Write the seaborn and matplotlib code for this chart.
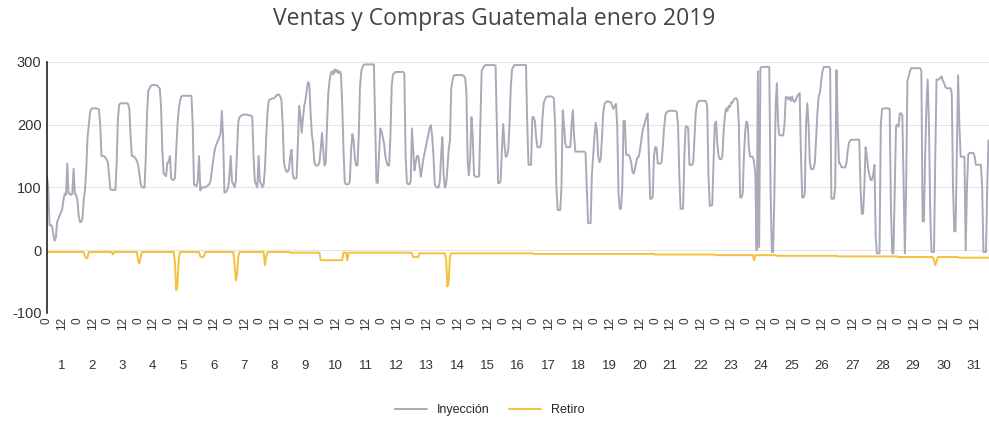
import matplotlib
matplotlib.use('Agg')  # Use non-interactive backend
import matplotlib.pyplot as plt
import matplotlib.transforms as mtransforms
import seaborn as sns
import pandas as pd

# Inyección, valores horarios (24 por día)
d1 = [117, 100, 40, 40, 38, 25, 15, 20, 45, 50, 55, 60, 65, 80, 90, 88, 138, 90, 90, 88, 90, 130, 90, 88]
d2 = [80, 55, 45, 45, 50, 80, 95, 130, 180, 200, 220, 225, 226, 226, 226, 226, 225, 224, 200, 150, 150, 150, 148, 145]
d3 = [140, 120, 97, 96, 96, 96, 96, 140, 210, 232, 234, 234, 234, 234, 234, 234, 233, 225, 180, 150, 150, 148, 146, 142]
d4 = [135, 120, 105, 100, 100, 100, 150, 220, 255, 258, 262, 263, 263, 263, 263, 262, 260, 258, 230, 160, 122, 120, 118, 140]
d5 = [140, 150, 115, 112, 112, 115, 160, 200, 225, 238, 245, 246, 246, 246, 246, 246, 246, 246, 246, 200, 105, 103, 102, 110]
d6 = [150, 95, 100, 100, 100, 100, 102, 103, 105, 110, 125, 140, 155, 165, 170, 175, 180, 185, 222, 180, 92, 92, 95, 100]
d7 = [120, 150, 110, 105, 100, 110, 160, 205, 212, 214, 215, 216, 216, 216, 216, 215, 215, 214, 213, 150, 110, 105, 100, 150]
d8 = [110, 105, 100, 105, 130, 180, 220, 238, 240, 241, 242, 242, 244, 246, 248, 248, 245, 240, 200, 140, 130, 125, 125, 130]
d9 = [150, 160, 120, 114, 114, 115, 170, 230, 215, 187, 210, 230, 240, 255, 268, 265, 220, 185, 170, 140, 135, 135, 135, 140]
d10 = [160, 187, 160, 135, 140, 200, 250, 270, 282, 285, 280, 288, 284, 287, 282, 285, 280, 230, 160, 108, 105, 105, 105, 110]
d11 = [160, 185, 175, 145, 135, 135, 180, 260, 285, 292, 295, 296, 296, 296, 296, 296, 296, 296, 296, 200, 108, 107, 150, 194]
d12 = [190, 180, 170, 150, 140, 135, 135, 180, 260, 280, 282, 284, 284, 284, 284, 284, 284, 284, 282, 150, 108, 105, 105, 110]
d13 = [194, 160, 127, 140, 150, 150, 135, 117, 130, 145, 155, 165, 175, 185, 195, 199, 180, 150, 105, 101, 100, 100, 110, 150]
d14 = [180, 120, 100, 105, 130, 160, 175, 258, 270, 278, 279, 279, 279, 279, 279, 279, 279, 277, 275, 250, 140, 119, 150, 212]
d15 = [180, 120, 117, 117, 117, 118, 200, 285, 290, 293, 295, 295, 295, 295, 295, 295, 295, 295, 294, 200, 107, 107, 110, 160]
d16 = [201, 170, 149, 150, 160, 200, 260, 288, 292, 295, 295, 295, 295, 295, 295, 295, 295, 295, 295, 200, 136, 136, 136, 212]
d17 = [212, 206, 180, 164, 164, 164, 170, 210, 235, 240, 244, 245, 245, 245, 245, 244, 242, 200, 100, 64, 64, 64, 100, 223]
d18 = [200, 170, 164, 164, 164, 165, 200, 223, 180, 157, 157, 157, 157, 157, 157, 157, 157, 155, 100, 43, 43, 43, 120, 150]
d19 = [180, 203, 190, 150, 140, 145, 180, 220, 233, 236, 237, 237, 236, 236, 230, 225, 230, 233, 200, 90, 66, 66, 100, 206]
d20 = [206, 152, 152, 152, 148, 140, 125, 122, 130, 140, 148, 149, 160, 175, 190, 197, 205, 212, 218, 150, 82, 82, 85, 150]
d21 = [164, 164, 138, 138, 138, 140, 165, 195, 215, 220, 221, 222, 222, 222, 222, 222, 222, 220, 200, 120, 66, 66, 66, 150]
d22 = [197, 197, 195, 136, 136, 136, 140, 180, 220, 233, 237, 238, 238, 238, 238, 238, 237, 230, 120, 71, 71, 72, 140, 200]
d23 = [205, 170, 150, 145, 145, 150, 190, 215, 226, 222, 230, 228, 236, 235, 240, 242, 242, 238, 200, 84, 84, 90, 150, 190]
d24 = [205, 200, 160, 149, 149, 149, 140, 120, 0, 285, 5, 290, 292, 292, 292, 292, 292, 292, 292, 100, -3, -3, 85, 230]
d25 = [266, 200, 183, 183, 183, 183, 200, 244, 244, 240, 244, 238, 245, 238, 236, 240, 245, 248, 250, 150, 84, 84, 90, 200]
d26 = [234, 200, 140, 129, 129, 130, 140, 180, 220, 245, 252, 270, 285, 292, 292, 292, 292, 292, 290, 82, 82, 82, 100, 287]
d27 = [200, 138, 138, 132, 132, 132, 132, 140, 160, 172, 175, 176, 176, 176, 176, 176, 176, 176, 100, 58, 58, 100, 164, 150]
d28 = [130, 120, 112, 112, 120, 136, 20, -5, -5, -5, 200, 225, 226, 226, 226, 226, 226, 225, 69, -5, -5, 100, 197, 200]
d29 = [197, 218, 218, 215, 100, -5, 100, 270, 277, 285, 290, 290, 290, 290, 290, 290, 290, 290, 285, 46, 46, 150, 230, 272]
d30 = [200, 60, -3, -3, -3, 150, 272, 272, 272, 275, 277, 270, 266, 260, 258, 258, 258, 258, 250, 100, 30, 30, 150, 279]
d31 = [200, 149, 149, 149, 149, 0, 100, 152, 155, 155, 155, 155, 150, 136, 136, 136, 136, 136, 100, -3, -3, -3, 100, 175]

dias_inyeccion = [d1, d2, d3, d4, d5, d6, d7, d8, d9, d10, d11, d12, d13, d14, d15, d16,
                  d17, d18, d19, d20, d21, d22, d23, d24, d25, d26, d27, d28, d29, d30, d31]

# Retiro: nivel base de cada día y las puntas (día, hora) -> valor
retiro_base = [-3, -3, -3, -3, -3, -3, -3, -3, -4, -4, -4, -4, -5, -5, -5, -5,
               -6, -6, -6, -6, -7, -7, -8, -8, -9, -9, -10, -10, -11, -11, -12]
retiro_puntas = {
    (2, 6): -10, (2, 7): -13, (2, 8): -12,
    (3, 4): -7,
    (4, 0): -18, (4, 1): -21, (4, 2): -10,
    (5, 5): -20, (5, 6): -64, (5, 7): -55, (5, 8): -12,
    (6, 1): -10, (6, 2): -11, (6, 3): -11, (6, 4): -9,
    (7, 4): -20, (7, 5): -48, (7, 6): -40, (7, 7): -10,
    (8, 4): -24, (8, 5): -10,
    (10, 0): -16, (10, 1): -16, (10, 2): -16, (10, 3): -16, (10, 4): -16, (10, 5): -16,
    (10, 6): -16, (10, 7): -16, (10, 8): -16, (10, 9): -16, (10, 10): -16, (10, 11): -16,
    (10, 12): -16, (10, 13): -16, (10, 14): -16, (10, 15): -16, (10, 16): -16, (10, 17): -16,
    (10, 21): -16,
    (13, 1): -11, (13, 2): -11, (13, 3): -11, (13, 4): -11, (13, 5): -11,
    (14, 3): -15, (14, 4): -58, (14, 5): -50, (14, 6): -10,
    (24, 6): -16,
    (30, 4): -16, (30, 5): -24, (30, 6): -18,
}

dias = [str(d) for d in range(1, 32)]
horas_etiqueta = ['0', '12']

inyeccion = [v for dia in dias_inyeccion for v in dia]
retiro = [retiro_puntas.get((d + 1, h), retiro_base[d]) for d in range(31) for h in range(24)]
n = len(inyeccion)

df = pd.DataFrame({
    'hora': list(range(n)) * 2,
    'MW': inyeccion + retiro,
    'serie': ['Inyección'] * n + ['Retiro'] * n,
})

sns.set_style('white')
plt.rcParams['font.family'] = ['Liberation Sans', 'DejaVu Sans']
plt.rcParams['axes.unicode_minus'] = False

fig = plt.figure(figsize=(9.89, 4.24), dpi=100)
ax = fig.add_axes([0.0475, 0.262, 0.952, 0.592])

sns.lineplot(data=df, x='hora', y='MW', hue='serie',
             palette={'Inyección': '#a9a9b8', 'Retiro': '#f5c03c'},
             linewidth=1.4, estimator=None, ax=ax)

ax.set_xlim(0, n - 1)
ax.set_ylim(-100, 300)
ax.set_yticks([-100, 0, 100, 200, 300])
ax.set_xticks(range(0, n, 12))
ax.set_xticklabels(horas_etiqueta * 31, rotation=90, fontsize=8.5, color='#333333')
ax.tick_params(axis='both', length=0, pad=3)
ax.tick_params(axis='y', labelsize=10.5, labelcolor='#333333', pad=4)
ax.set_xlabel('')
ax.set_ylabel('')
ax.grid(axis='y', color='#e4e4e4', linewidth=0.8)

for s in ['top', 'right', 'bottom']:
    ax.spines[s].set_visible(False)
ax.spines['left'].set_color('#222222')
ax.spines['left'].set_linewidth(1.2)

# etiquetas de los días, centradas en cada día
trans = mtransforms.blended_transform_factory(ax.transData, ax.transAxes)
for i, d in enumerate(dias):
    ax.text(i * 24 + 11.5, -0.21, d, transform=trans, ha='center', va='center',
            fontsize=9.5, color='#333333')

fig.text(0.5, 0.955, 'Ventas y Compras Guatemala enero 2019', ha='center', va='center',
         fontsize=16.5, color='#444444', family=['Open Sans', 'DejaVu Sans'])

handles, labels = ax.get_legend_handles_labels()
ax.get_legend().remove()
fig.legend(handles, labels, loc='center', bbox_to_anchor=(0.495, 0.033), ncol=2,
           frameon=False, fontsize=9, handlelength=2.6, columnspacing=1.5)

plt.savefig('out.png', dpi=100)
plt.close()
